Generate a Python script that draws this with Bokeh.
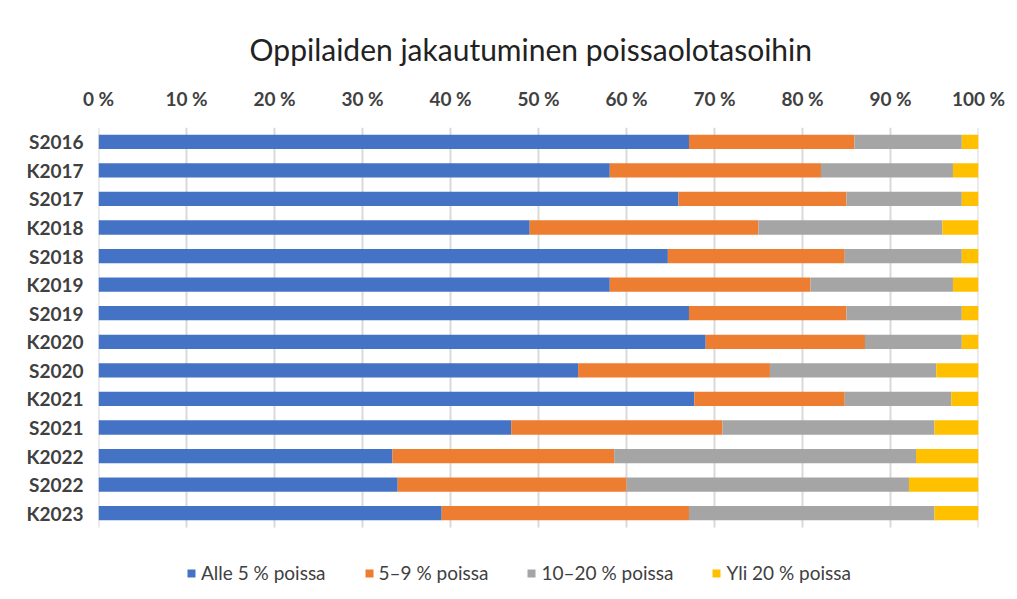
from bokeh.plotting import figure
from bokeh.models import Range1d, Legend, LegendItem, LinearAxis, FixedTicker, CustomJSTickFormatter
from bokeh.embed import file_html
from bokeh.resources import INLINE

categories = ["S2016", "K2017", "S2017", "K2018", "S2018", "K2019", "S2019",
              "K2020", "S2020", "K2021", "S2021", "K2022", "S2022", "K2023"]
alle5 = [67.1, 58.1, 65.9, 49.0, 64.7, 58.1, 67.1, 69.0, 54.5, 67.7, 46.9, 33.4, 34.0, 39.0]
p5_9 = [18.8, 24.0, 19.1, 26.0, 20.1, 22.8, 17.9, 18.1, 21.8, 17.1, 24.0, 25.2, 26.0, 28.1]
p10_20 = [12.2, 15.0, 13.1, 20.9, 13.3, 16.2, 13.1, 11.0, 18.9, 12.1, 24.1, 34.3, 32.1, 27.9]
yli20 = [1.9, 2.9, 1.9, 4.1, 1.9, 2.9, 1.9, 1.9, 4.8, 3.1, 5.0, 7.1, 7.9, 5.0]
series_names = ["Alle 5 % poissa", "5–9 % poissa", "10–20 % poissa", "Yli 20 % poissa"]
colors = ["#4472C4", "#ED7D31", "#A5A5A5", "#FFC000"]
x_ticks = [0, 10, 20, 30, 40, 50, 60, 70, 80, 90, 100]

FONT = "Lato"
TEXT = "#404040"

n = len(categories)
# first category at the top
ypos = [n - 1 - i for i in range(n)]
data = {"y": ypos, "a": alle5, "b": p5_9, "c": p10_20, "d": yli20}

W, H = 1017, 599
top, bottom, left, right = 127, 4, 98, 39
bars_px = 400.0
unit = bars_px / n
frame_h = H - top - bottom
y_end = n - 0.5
y_start = y_end - frame_h / unit

p = figure(width=W, height=H, y_range=Range1d(y_start, y_end),
           x_range=Range1d(0, 100), output_backend="svg", toolbar_location=None,
           x_axis_location=None, min_border_left=left, min_border_right=right,
           min_border_top=top, min_border_bottom=bottom)

# vertical gridlines limited to the bar area
p.segment(x0=x_ticks, x1=x_ticks, y0=[-0.5] * len(x_ticks), y1=[y_end] * len(x_ticks),
          line_color="#D9D9D9", line_width=2)

renderers = p.hbar_stack(["a", "b", "c", "d"], y="y", height=0.5, color=colors,
                         source=data, line_width=0)

p.title.text = "Oppilaiden  jakautuminen  poissaolotasoihin"
p.title.align = "center"
p.title.text_font = FONT
p.title.text_font_style = "normal"
p.title.text_font_size = "30px"
p.title.text_color = "#222222"
p.title.standoff = 34

xaxis = LinearAxis(ticker=FixedTicker(ticks=x_ticks),
                   formatter=CustomJSTickFormatter(code="return tick + ' %';"))
xaxis.axis_line_color = None
xaxis.major_tick_line_color = None
xaxis.minor_tick_line_color = None
xaxis.major_label_standoff = 12
xaxis.major_label_text_font = FONT
xaxis.major_label_text_font_style = "bold"
xaxis.major_label_text_font_size = "19px"
xaxis.major_label_text_color = TEXT
p.add_layout(xaxis, "above")

p.yaxis.ticker = FixedTicker(ticks=ypos)
p.yaxis.major_label_overrides = {y: c for y, c in zip(ypos, categories)}
p.yaxis.axis_line_color = None
p.yaxis.major_tick_line_color = None
p.yaxis.minor_tick_line_color = None
p.yaxis.major_label_standoff = 9
p.yaxis.major_label_text_font = FONT
p.yaxis.major_label_text_font_style = "bold"
p.yaxis.major_label_text_font_size = "19px"
p.yaxis.major_label_text_color = TEXT

p.xgrid.grid_line_color = None
p.ygrid.grid_line_color = None
p.outline_line_color = None

legend = Legend(items=[LegendItem(label=nm, renderers=[r]) for nm, r in zip(series_names, renderers)],
                orientation="horizontal", location=(88, 11))
legend.label_text_font = FONT
legend.label_text_font_size = "19px"
legend.label_text_color = TEXT
legend.glyph_width = 10
legend.glyph_height = 10
legend.label_standoff = 5
legend.spacing = 38
legend.border_line_color = None
legend.background_fill_alpha = 0
legend.margin = 0
legend.padding = 0
p.add_layout(legend, "center")

open("out.html", "w").write(file_html(p, INLINE))
